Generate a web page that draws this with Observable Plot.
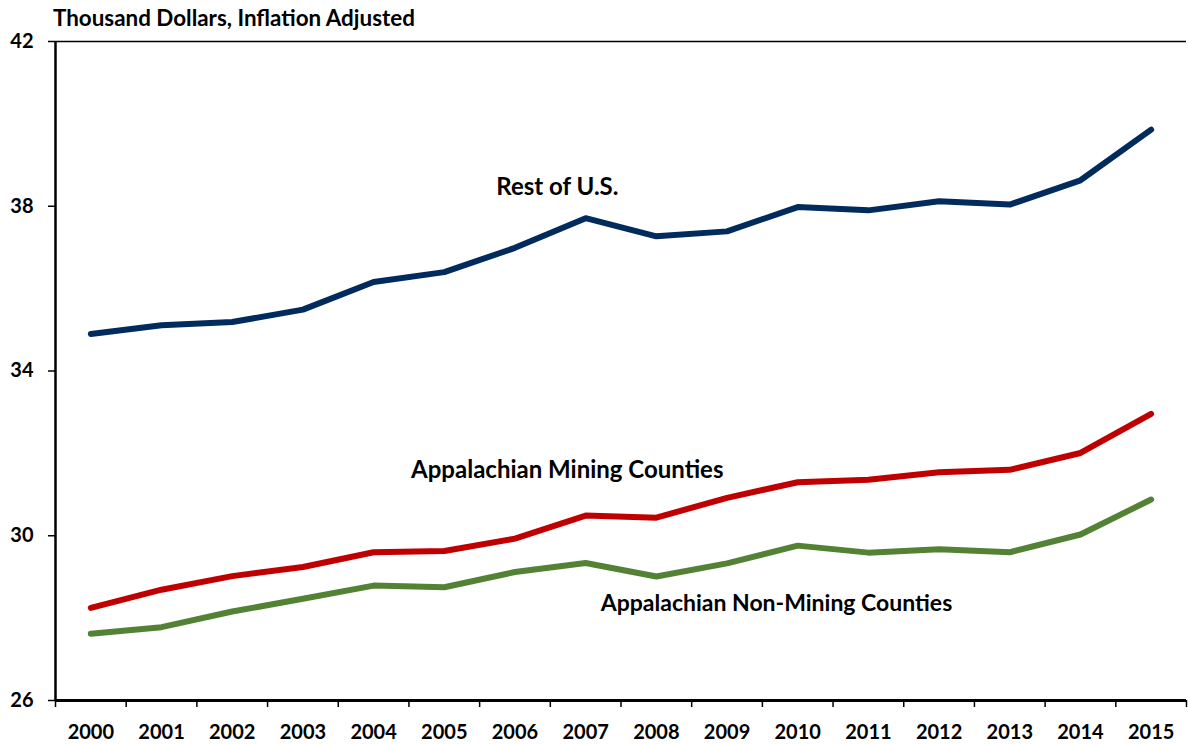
<!DOCTYPE html>
<html>
<head>
<meta charset="utf-8">
<script src="https://cdn.jsdelivr.net/npm/d3@7"></script>
<script src="https://cdn.jsdelivr.net/npm/@observablehq/plot@0.6"></script>
<style>
  html, body { margin: 0; padding: 0; background: #fff; }
  #title { font-family: Lato, "Open Sans", sans-serif; font-weight: 700; font-size: 22.4px; color: #000;
           height: 30px; line-height: 36px; padding-left: 53px; white-space: nowrap; }
  #chart svg { display: block; overflow: visible; }
</style>
</head>
<body>
<div id="title">Thousand Dollars, Inflation Adjusted</div>
<div id="chart"></div>
<script>
const years = [2000,2001,2002,2003,2004,2005,2006,2007,2008,2009,2010,2011,2012,2013,2014,2015];
const restUS    = [34.90,35.11,35.19,35.49,36.16,36.40,36.99,37.71,37.27,37.39,37.98,37.90,38.12,38.04,38.63,39.86];
const mining    = [28.25,28.69,29.02,29.24,29.60,29.63,29.93,30.49,30.44,30.92,31.30,31.36,31.54,31.60,32.01,32.96];
const nonMining = [27.62,27.78,28.16,28.47,28.79,28.75,29.12,29.34,29.01,29.33,29.76,29.59,29.67,29.60,30.03,30.88];
const seriesNames = ["Rest of U.S.", "Appalachian Mining Counties", "Appalachian Non-Mining Counties"];
const seriesColors = ["#002b5c", "#c00000", "#548235"];
const yTicks = [26, 30, 34, 38, 42];
// label anchor positions (data units)
const labelYears  = [2006.6, 2006.74, 2009.7];
const labelValues = [38.46, 31.58, 28.36];
const labelSizes  = [24, 24, 23];

const seriesValues = [restUS, mining, nonMining];
const rows = seriesNames.flatMap((s, i) => years.map((yr, j) => ({series: s, year: yr, value: seriesValues[i][j]})));
const labels = seriesNames.map((s, i) => ({series: s, year: labelYears[i], value: labelValues[i], size: labelSizes[i]}));
const boundaries = [...years.map(y => y - 0.5), years[years.length - 1] + 0.5];

const font = "Lato, 'Open Sans', sans-serif";
const chart = Plot.plot({
  width: 1188,
  height: 714,
  marginTop: 11,
  marginBottom: 44,
  marginLeft: 55,
  marginRight: 2,
  style: {fontFamily: font, fontWeight: 700, color: "#000", background: "#fff", overflow: "visible"},
  x: {domain: [years[0] - 0.5, years[years.length - 1] + 0.5]},
  y: {domain: [26, 42]},
  color: {domain: seriesNames, range: seriesColors},
  marks: [
    Plot.ruleY([42], {stroke: "#000", strokeWidth: 1.5}),
    Plot.axisY({ticks: yTicks, tickSize: 7, tickPadding: 15, fontSize: 20, fontWeight: 700, label: null, stroke: "#000", strokeWidth: 1.5}),
    Plot.axisX({ticks: boundaries, tickSize: 7, tickFormat: () => "", label: null, stroke: "#000", strokeWidth: 1.5}),
    Plot.axisX({ticks: years, tickSize: 0, tickPadding: 24, tickFormat: d => String(d), fontSize: 20, fontWeight: 700, label: null}),
    Plot.line(rows, {x: "year", y: "value", z: "series", stroke: "series", strokeWidth: 6, strokeLinejoin: "round", strokeLinecap: "round"}),
    Plot.ruleX([years[0] - 0.5], {stroke: "#000", strokeWidth: 2.5}),
    Plot.ruleY([26], {stroke: "#000", strokeWidth: 3}),
    ...labels.map(l => Plot.text([l], {x: "year", y: "value", text: "series", fontSize: l.size, fontWeight: 700, fill: "#000", textAnchor: "middle"}))
  ]
});
document.getElementById("chart").appendChild(chart);
</script>
</body>
</html>
